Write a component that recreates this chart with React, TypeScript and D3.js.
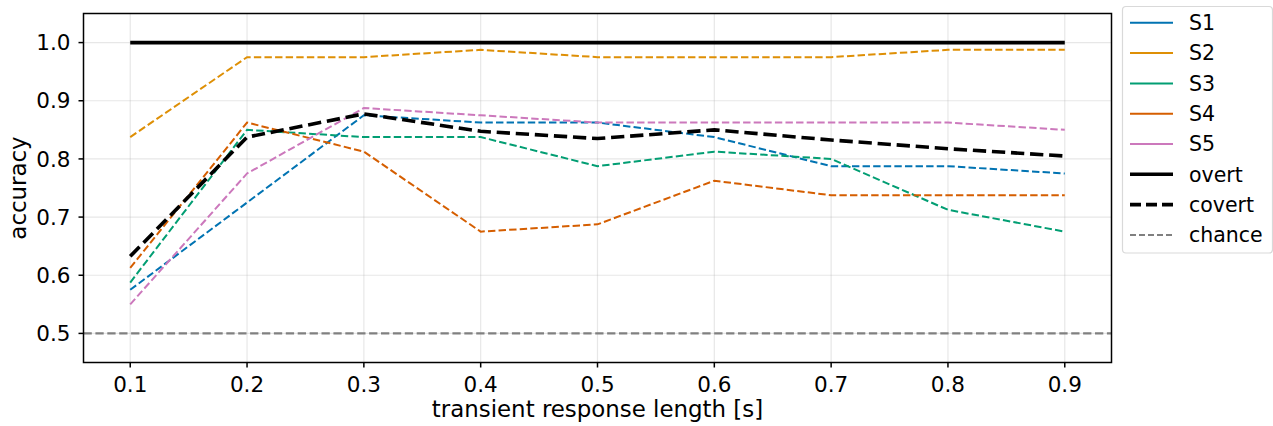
import React from 'react';
import * as d3 from 'd3';

// transient response lengths [s]
const lengths = [0.1, 0.2, 0.3, 0.4, 0.5, 0.6, 0.7, 0.8, 0.9];

// per-subject accuracies (covert condition)
const s1 = [0.575, 0.725, 0.875, 0.8625, 0.8625, 0.8375, 0.7875, 0.7875, 0.775];
const s2 = [0.8375, 0.975, 0.975, 0.9875, 0.975, 0.975, 0.975, 0.9875, 0.9875];
const s3 = [0.5875, 0.85, 0.8375, 0.8375, 0.7875, 0.8125, 0.8, 0.7125, 0.675];
const s4 = [0.6125, 0.8625, 0.8125, 0.675, 0.6875, 0.7625, 0.7375, 0.7375, 0.7375];
const s5 = [0.55, 0.775, 0.8875, 0.875, 0.8625, 0.8625, 0.8625, 0.8625, 0.85];
const overt = [1.0, 1.0, 1.0, 1.0, 1.0, 1.0, 1.0, 1.0, 1.0];
const covert = [0.6325, 0.8375, 0.8775, 0.8475, 0.835, 0.85, 0.8325, 0.8175, 0.805];
const chance = 0.5;

const xTicks = [0.1, 0.2, 0.3, 0.4, 0.5, 0.6, 0.7, 0.8, 0.9];
const yTicks = [0.5, 0.6, 0.7, 0.8, 0.9, 1.0];

const subjects = [
  { name: 'S1', values: s1, color: '#0173b2' },
  { name: 'S2', values: s2, color: '#de8f05' },
  { name: 'S3', values: s3, color: '#029e73' },
  { name: 'S4', values: s4, color: '#d55e00' },
  { name: 'S5', values: s5, color: '#cc78bc' },
];

const W = 1273;
const H = 426;
const margin = { top: 13.5, right: 161.5, bottom: 63.5, left: 83.5 };
const FONT = 'DejaVu Sans, sans-serif';

export default function App() {
  const x = d3.scaleLinear()
    .domain([0.06, 0.94])
    .range([margin.left, W - margin.right]);
  const y = d3.scaleLinear()
    .domain([0.45, 1.05])
    .range([H - margin.bottom, margin.top]);

  const line = (vals: number[]) =>
    d3.line<number>()
      .x((_, i) => x(lengths[i]))
      .y((d) => y(d))(vals) || '';

  const x0 = x.range()[0];
  const x1 = x.range()[1];
  const y0 = y.range()[0];
  const y1 = y.range()[1];

  // legend entries
  const legendItems = [
    ...subjects.map((s) => ({ label: s.name, color: s.color, width: 2, dash: '' })),
    { label: 'overt', color: '#000', width: 3.6, dash: '' },
    { label: 'covert', color: '#000', width: 3.6, dash: '11,5' },
    { label: 'chance', color: '#808080', width: 2, dash: '6,3' },
  ];
  const legX = 1122.5;
  const legY = 6.5;
  const rowH = 30.3;

  return (
    <svg
      width={W}
      height={H}
      style={{ position: 'absolute', left: 0, top: 0, background: '#fff' }}
      fontFamily={FONT}
    >
      <rect x={0} y={0} width={W} height={H} fill="#fff" />

      {/* grid */}
      {xTicks.map((t) => (
        <line key={'gx' + t} x1={x(t)} x2={x(t)} y1={y1} y2={y0} stroke="#b0b0b0" strokeOpacity={0.3} strokeWidth={1.2} />
      ))}
      {yTicks.map((t) => (
        <line key={'gy' + t} x1={x0} x2={x1} y1={y(t)} y2={y(t)} stroke="#b0b0b0" strokeOpacity={0.3} strokeWidth={1.2} />
      ))}

      {/* chance level */}
      <line x1={x0} x2={x1} y1={y(chance)} y2={y(chance)} stroke="#808080" strokeWidth={2.2} strokeDasharray="8.3,3.6" />

      {/* subjects */}
      {subjects.map((s) => (
        <path key={s.name} d={line(s.values)} fill="none" stroke={s.color} strokeWidth={2} strokeDasharray="7.4,3.2" />
      ))}

      <path d={line(overt)} fill="none" stroke="#000" strokeWidth={3.6} />
      <path d={line(covert)} fill="none" stroke="#000" strokeWidth={3.6} strokeDasharray="13.3,5.8" />

      {/* frame */}
      <rect x={x0} y={y1} width={x1 - x0} height={y0 - y1} fill="none" stroke="#000" strokeWidth={1.5} />

      {/* x axis */}
      {xTicks.map((t) => (
        <g key={'xt' + t}>
          <line x1={x(t)} x2={x(t)} y1={y0} y2={y0 + 5} stroke="#000" strokeWidth={1.5} />
          <text x={x(t)} y={y0 + 29} textAnchor="middle" fontSize={21.5} fill="#000">
            {t.toFixed(1)}
          </text>
        </g>
      ))}
      <text x={(x0 + x1) / 2} y={417} textAnchor="middle" fontSize={22.9} fill="#000">
        transient response length [s]
      </text>

      {/* y axis */}
      {yTicks.map((t) => (
        <g key={'yt' + t}>
          <line x1={x0 - 5} x2={x0} y1={y(t)} y2={y(t)} stroke="#000" strokeWidth={1.5} />
          <text x={x0 - 13} y={y(t)} dy="0.36em" textAnchor="end" fontSize={21.5} fill="#000">
            {t.toFixed(1)}
          </text>
        </g>
      ))}
      <text
        transform={`translate(26, ${(y0 + y1) / 2}) rotate(-90)`}
        textAnchor="middle"
        fontSize={22.9}
        fill="#000"
      >
        accuracy
      </text>

      {/* legend */}
      <rect x={legX} y={legY} width={150} height={246.5} rx={3.5} fill="#fff" fillOpacity={0.8} stroke="#d9d9d9" strokeWidth={1.2} />
      {legendItems.map((it, i) => {
        const cy = legY + 16.3 + i * rowH;
        return (
          <g key={it.label}>
            <line x1={1130} x2={1173} y1={cy} y2={cy} stroke={it.color} strokeWidth={it.width} strokeDasharray={it.dash || undefined} />
            <text x={1189} y={cy} dy="0.36em" fontSize={20.5} fill="#000">
              {it.label}
            </text>
          </g>
        );
      })}
    </svg>
  );
}
